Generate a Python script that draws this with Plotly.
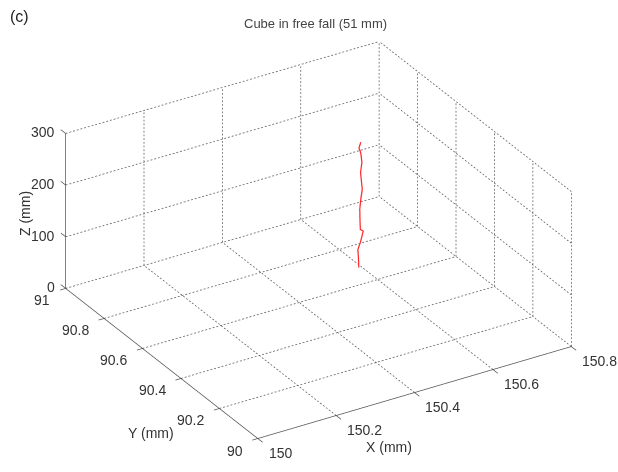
import math
import plotly.graph_objects as go

# ---- data ----
x_ticks = [150.0, 150.2, 150.4, 150.6, 150.8]
y_ticks = [90.0, 90.2, 90.4, 90.6, 90.8, 91.0]
z_ticks = [0, 100, 200, 300]
x_labels = ["150", "150.2", "150.4", "150.6", "150.8"]
y_labels = ["90", "90.2", "90.4", "90.6", "90.8", "91"]
z_labels = ["0", "100", "200", "300"]

traj_x = [150.593, 150.592, 150.591, 150.597, 150.604, 150.597, 150.596, 150.596,
          150.598, 150.602, 150.601, 150.598, 150.601, 150.598, 150.594, 150.598]
traj_y = [90.684, 90.684, 90.685, 90.684, 90.683, 90.684, 90.684, 90.685,
          90.684, 90.684, 90.684, 90.685, 90.684, 90.684, 90.685, 90.684]
traj_z = [0, 21, 35, 48, 69, 73, 92, 112,
          131, 150, 156, 183, 202, 221, 231, 242]

X0, X1 = x_ticks[0], x_ticks[-1]
Y0, Y1 = y_ticks[0], y_ticks[-1]
Z0, Z1 = z_ticks[0], z_ticks[-1]

# tick-mark lengths (data units) and symmetric padding so ticks are not clipped
TX, TY, TZ = 0.014, 0.025, 0.025
PX, PY = 0.02, 0.03

fig = go.Figure()

# dotted grid lines on back walls and floor (built from tick arrays)
gx, gy, gz = [], [], []
def dotted(p, q, n):
    for i in range(n):
        t0 = i / n
        t1 = (i + 0.5) / n
        gx.extend([p[0] + (q[0] - p[0]) * t0, p[0] + (q[0] - p[0]) * t1, None])
        gy.extend([p[1] + (q[1] - p[1]) * t0, p[1] + (q[1] - p[1]) * t1, None])
        gz.extend([p[2] + (q[2] - p[2]) * t0, p[2] + (q[2] - p[2]) * t1, None])

NX, NY, NZ = 85, 66, 42
for xv in x_ticks[1:]:
    dotted((xv, Y0, Z0), (xv, Y1, Z0), NY)       # floor
    dotted((xv, Y1, Z0), (xv, Y1, Z1), NZ)       # back wall y=max
for yv in y_ticks[1:]:
    dotted((X0, yv, Z0), (X1, yv, Z0), NX)       # floor
for yv in y_ticks:
    dotted((X1, yv, Z0), (X1, yv, Z1), NZ)       # right wall x=max
for zv in z_ticks[1:]:
    dotted((X0, Y1, zv), (X1, Y1, zv), NX)
    dotted((X1, Y0, zv), (X1, Y1, zv), NY)

fig.add_trace(go.Scatter3d(x=gx, y=gy, z=gz, mode="lines",
                           line=dict(color="#5a5a5a", width=1.5),
                           hoverinfo="skip", showlegend=False))

# solid axis lines + tick marks
ax_x, ax_y, ax_z = [], [], []
def solid(p, q):
    ax_x.extend([p[0], q[0], None]); ax_y.extend([p[1], q[1], None]); ax_z.extend([p[2], q[2], None])

solid((X0, Y0, Z0), (X1, Y0, Z0))
solid((X0, Y0, Z0), (X0, Y1, Z0))
solid((X0, Y1, Z0), (X0, Y1, Z1))
for xv in x_ticks:
    solid((xv, Y0, Z0), (xv, Y0 - TY, Z0))
for yv in y_ticks:
    solid((X0, yv, Z0), (X0 - TX, yv, Z0))
for zv in z_ticks:
    solid((X0, Y1, zv), (X0, Y1 + TZ, zv))
fig.add_trace(go.Scatter3d(x=ax_x, y=ax_y, z=ax_z, mode="lines",
                           line=dict(color="#555555", width=1.5),
                           hoverinfo="skip", showlegend=False))

fig.add_trace(go.Scatter3d(x=traj_x, y=traj_y, z=traj_z, mode="lines",
                           line=dict(color="#ff2a2a", width=2.5),
                           hoverinfo="skip", showlegend=False))

a = math.radians(31.5)
el = math.radians(28.6)
dist = 1.9
eye = dict(x=-dist * math.sin(a) * math.cos(el),
           y=-dist * math.cos(a) * math.cos(el),
           z=dist * math.sin(el))

S = 1.585
spanx = (X1 - X0)
spany = (Y1 - Y0)
common = dict(showgrid=False, zeroline=False, showbackground=False, showline=False,
              ticks="", showticklabels=False, title=dict(text=""), showspikes=False)

lab_font = dict(family="Liberation Sans, Arial, sans-serif", size=14, color="#333333")
scene_ann = []
for xv, t in zip(x_ticks, x_labels):
    scene_ann.append(dict(x=xv, y=Y0, z=Z0, text=t, showarrow=False,
                          xanchor="left", yanchor="middle", xshift=9, yshift=-14,
                          font=lab_font))
for yv, t in zip(y_ticks, y_labels):
    scene_ann.append(dict(x=X0, y=yv, z=Z0, text=t, showarrow=False,
                          xanchor="right", yanchor="middle", xshift=-13, yshift=-12,
                          font=lab_font))
for zv, t in zip(z_ticks, z_labels):
    scene_ann.append(dict(x=X0, y=Y1, z=zv, text=t, showarrow=False,
                          xanchor="right", yanchor="middle", xshift=-8, yshift=1,
                          font=lab_font))

fig.update_layout(
    width=618, height=472,
    margin=dict(l=0, r=0, t=0, b=0),
    paper_bgcolor="white",
    scene=dict(
        domain=dict(x=[0.03, 1.0], y=[0.0, 0.983]),
        xaxis=dict(range=[X0 - PX, X1 + PX], **common),
        yaxis=dict(range=[Y0 - PY, Y1 + PY], **common),
        zaxis=dict(range=[Z0, Z1], **common),
        aspectmode="manual",
        aspectratio=dict(x=S * (spanx + 2 * PX) / spanx,
                         y=S * (spany + 2 * PY) / spany,
                         z=0.48 * S),
        camera=dict(eye=eye, up=dict(x=0, y=0, z=1), center=dict(x=0, y=0, z=0),
                    projection=dict(type="orthographic")),
        annotations=scene_ann,
    ),
    annotations=[
        dict(text="(c)", x=8 / 618, y=1 - 16 / 472, xref="paper", yref="paper",
             xanchor="left", yanchor="middle", showarrow=False,
             font=dict(family="Liberation Sans, Arial", size=16, color="#222222")),
        dict(text="Cube in free fall (51 mm)", x=315 / 618, y=1 - 24 / 472,
             xref="paper", yref="paper", xanchor="center", yanchor="middle",
             showarrow=False,
             font=dict(family="Liberation Sans, Arial", size=13, color="#444444")),
        dict(text="X (mm)", x=414 / 618, y=1 - 457 / 472, xref="paper", yref="paper",
             showarrow=False,
             font=dict(family="Liberation Sans, Arial", size=14, color="#333333")),
        dict(text="Y (mm)", x=126 / 618, y=1 - 443 / 472, xref="paper", yref="paper",
             showarrow=False,
             font=dict(family="Liberation Sans, Arial", size=14, color="#333333")),
        dict(text="Z (mm)", x=15 / 618, y=1 - 214 / 472, xref="paper", yref="paper",
             showarrow=False, textangle=-90,
             font=dict(family="Liberation Sans, Arial", size=14, color="#333333")),
    ],
)

fig.write_html("out.html")
